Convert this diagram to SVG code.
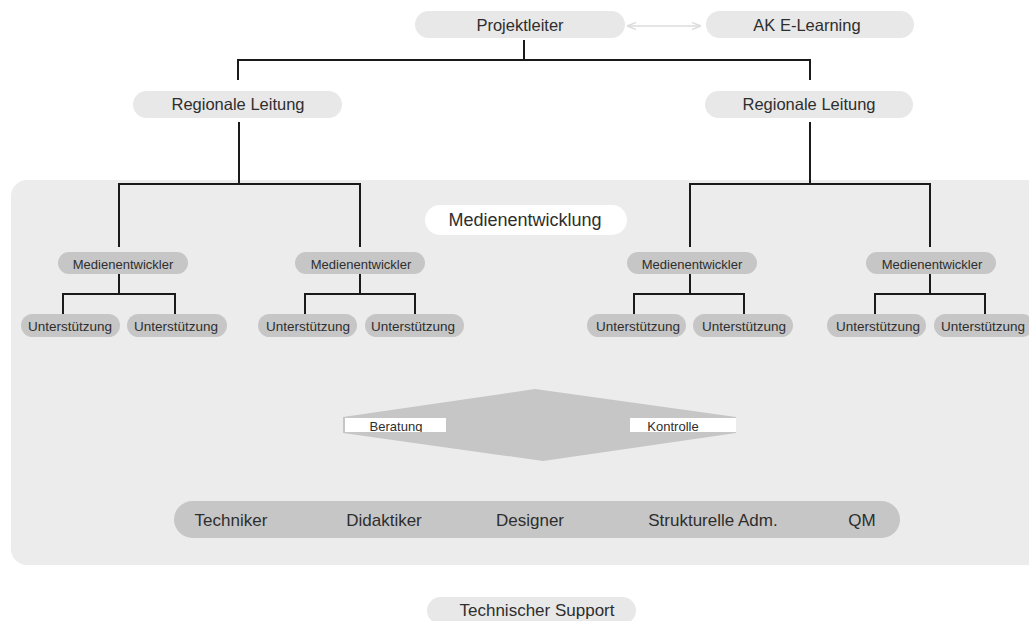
<svg xmlns="http://www.w3.org/2000/svg" width="1029" height="621" viewBox="0 0 1029 621">
  <style>
    text { font-family: "Liberation Sans", Arial, sans-serif; fill: #2e2e2e; text-anchor: middle; dominant-baseline: central; }
    .pill { fill: #e8e8e8; }
    .pill2 { fill: #c6c6c6; }
    .big { font-size: 16.5px; }
    .title { font-size: 18px; }
    .bar { font-size: 17px; }
    .mid { font-size: 13.5px; }
    .small { font-size: 13px; }
    .tiny { font-size: 13px; dominant-baseline: alphabetic; }
    .wire { fill: none; stroke: #1a1a1a; stroke-width: 2; }
  </style>
  <defs>
    <marker id="ah" viewBox="0 0 10 10" refX="9" refY="5" markerWidth="9" markerHeight="9" orient="auto-start-reverse" markerUnits="userSpaceOnUse">
      <path d="M0,1 L10,5 L0,9" fill="none" stroke="#dcdcdc" stroke-width="1.5"/>
    </marker>
    <clipPath id="clipB"><rect x="345" y="418" width="101" height="14"/></clipPath>
    <clipPath id="clipK"><rect x="630" y="418" width="106" height="14"/></clipPath>
  </defs>
  <rect width="1029" height="621" fill="#ffffff"/>

  <!-- media development area -->
  <g id="area">
    <rect x="11" y="180" width="1040" height="385" rx="16" fill="#ececec"/>
  </g>

  <g id="connectors">
    <line x1="628" y1="26" x2="700" y2="26" stroke="#dcdcdc" stroke-width="1.5" marker-start="url(#ah)" marker-end="url(#ah)"/>
    <path class="wire" d="M524,40 V60 M238,80 V60 H810 V80"/>
    <path class="wire" d="M239,122 V184 M119,247 V184 H360 V247"/>
    <path class="wire" d="M810,122 V184 M690,247 V184 H930 V247"/>
    <path class="wire" d="M119,274 V294 M63,315 V294 H175 V315"/>
    <path class="wire" d="M360,274 V294 M305,315 V294 H415 V315"/>
    <path class="wire" d="M690,274 V294 M634,315 V294 H744 V315"/>
    <path class="wire" d="M930,274 V294 M875,315 V294 H985 V315"/>
  </g>

  <g id="projektleiter"><rect class="pill" x="415" y="11" width="210" height="27" rx="13.5"/><text class="big" x="520" y="25">Projektleiter</text></g>
  <g id="ak-elearning"><rect class="pill" x="706" y="11" width="208" height="27" rx="13.5"/><text class="big" x="807" y="25">AK E-Learning</text></g>

  <g id="regional-left"><rect class="pill" x="133" y="91" width="209" height="27" rx="13.5"/><text class="big" x="238" y="104">Regionale Leitung</text></g>
  <g id="regional-right"><rect class="pill" x="705" y="91" width="208" height="27" rx="13.5"/><text class="big" x="809" y="104">Regionale Leitung</text></g>

  <g id="medienentwicklung"><rect x="425" y="205" width="202" height="30" rx="15" fill="#ffffff"/><text class="title" x="525" y="220">Medienentwicklung</text></g>

  <g id="me1"><rect class="pill2" x="58" y="252" width="130" height="22" rx="11"/><text class="small" x="123" y="264">Medienentwickler</text></g>
  <g id="me2"><rect class="pill2" x="295" y="252" width="130" height="22" rx="11"/><text class="small" x="361" y="264">Medienentwickler</text></g>
  <g id="me3"><rect class="pill2" x="627" y="252" width="130" height="22" rx="11"/><text class="small" x="692" y="264">Medienentwickler</text></g>
  <g id="me4"><rect class="pill2" x="866" y="252" width="130" height="22" rx="11"/><text class="small" x="932" y="264">Medienentwickler</text></g>

  <g id="u1"><rect class="pill2" x="21" y="314" width="99" height="23" rx="11.5"/><text class="mid" x="70" y="326">Unterstützung</text></g>
  <g id="u2"><rect class="pill2" x="127" y="314" width="100" height="23" rx="11.5"/><text class="mid" x="176" y="326">Unterstützung</text></g>
  <g id="u3"><rect class="pill2" x="258" y="314" width="99" height="23" rx="11.5"/><text class="mid" x="308" y="326">Unterstützung</text></g>
  <g id="u4"><rect class="pill2" x="365" y="314" width="99" height="23" rx="11.5"/><text class="mid" x="413" y="326">Unterstützung</text></g>
  <g id="u5"><rect class="pill2" x="587" y="314" width="99" height="23" rx="11.5"/><text class="mid" x="638" y="326">Unterstützung</text></g>
  <g id="u6"><rect class="pill2" x="693" y="314" width="100" height="23" rx="11.5"/><text class="mid" x="744" y="326">Unterstützung</text></g>
  <g id="u7"><rect class="pill2" x="827" y="314" width="99" height="23" rx="11.5"/><text class="mid" x="878" y="326">Unterstützung</text></g>
  <g id="u8"><rect class="pill2" x="934" y="314" width="100" height="23" rx="11.5"/><text class="mid" x="983" y="326">Unterstützung</text></g>

  <!-- advice / control exchange shape -->
  <g id="exchange">
    <polygon points="535,389 736,417 736,433 543,461 343,433 343,417" fill="#c6c6c6"/>
    <rect x="345" y="418" width="101" height="14" fill="#ffffff"/>
    <rect x="630" y="418" width="106" height="14" fill="#ffffff"/>
    <text class="tiny" x="396" y="431" clip-path="url(#clipB)">Beratung</text>
    <text class="tiny" x="673" y="431" clip-path="url(#clipK)">Kontrolle</text>
  </g>

  <g id="roles">
    <rect class="pill2" x="174" y="501" width="726" height="37" rx="18.5"/>
    <text class="bar" x="231" y="520">Techniker</text>
    <text class="bar" x="384" y="520">Didaktiker</text>
    <text class="bar" x="530" y="520">Designer</text>
    <text class="bar" x="713" y="520">Strukturelle Adm.</text>
    <text class="bar" x="862" y="520">QM</text>
  </g>

  <g id="support"><rect class="pill" x="427" y="597" width="209" height="27" rx="13.5"/><text class="bar" x="537" y="610">Technischer Support</text></g>
</svg>
